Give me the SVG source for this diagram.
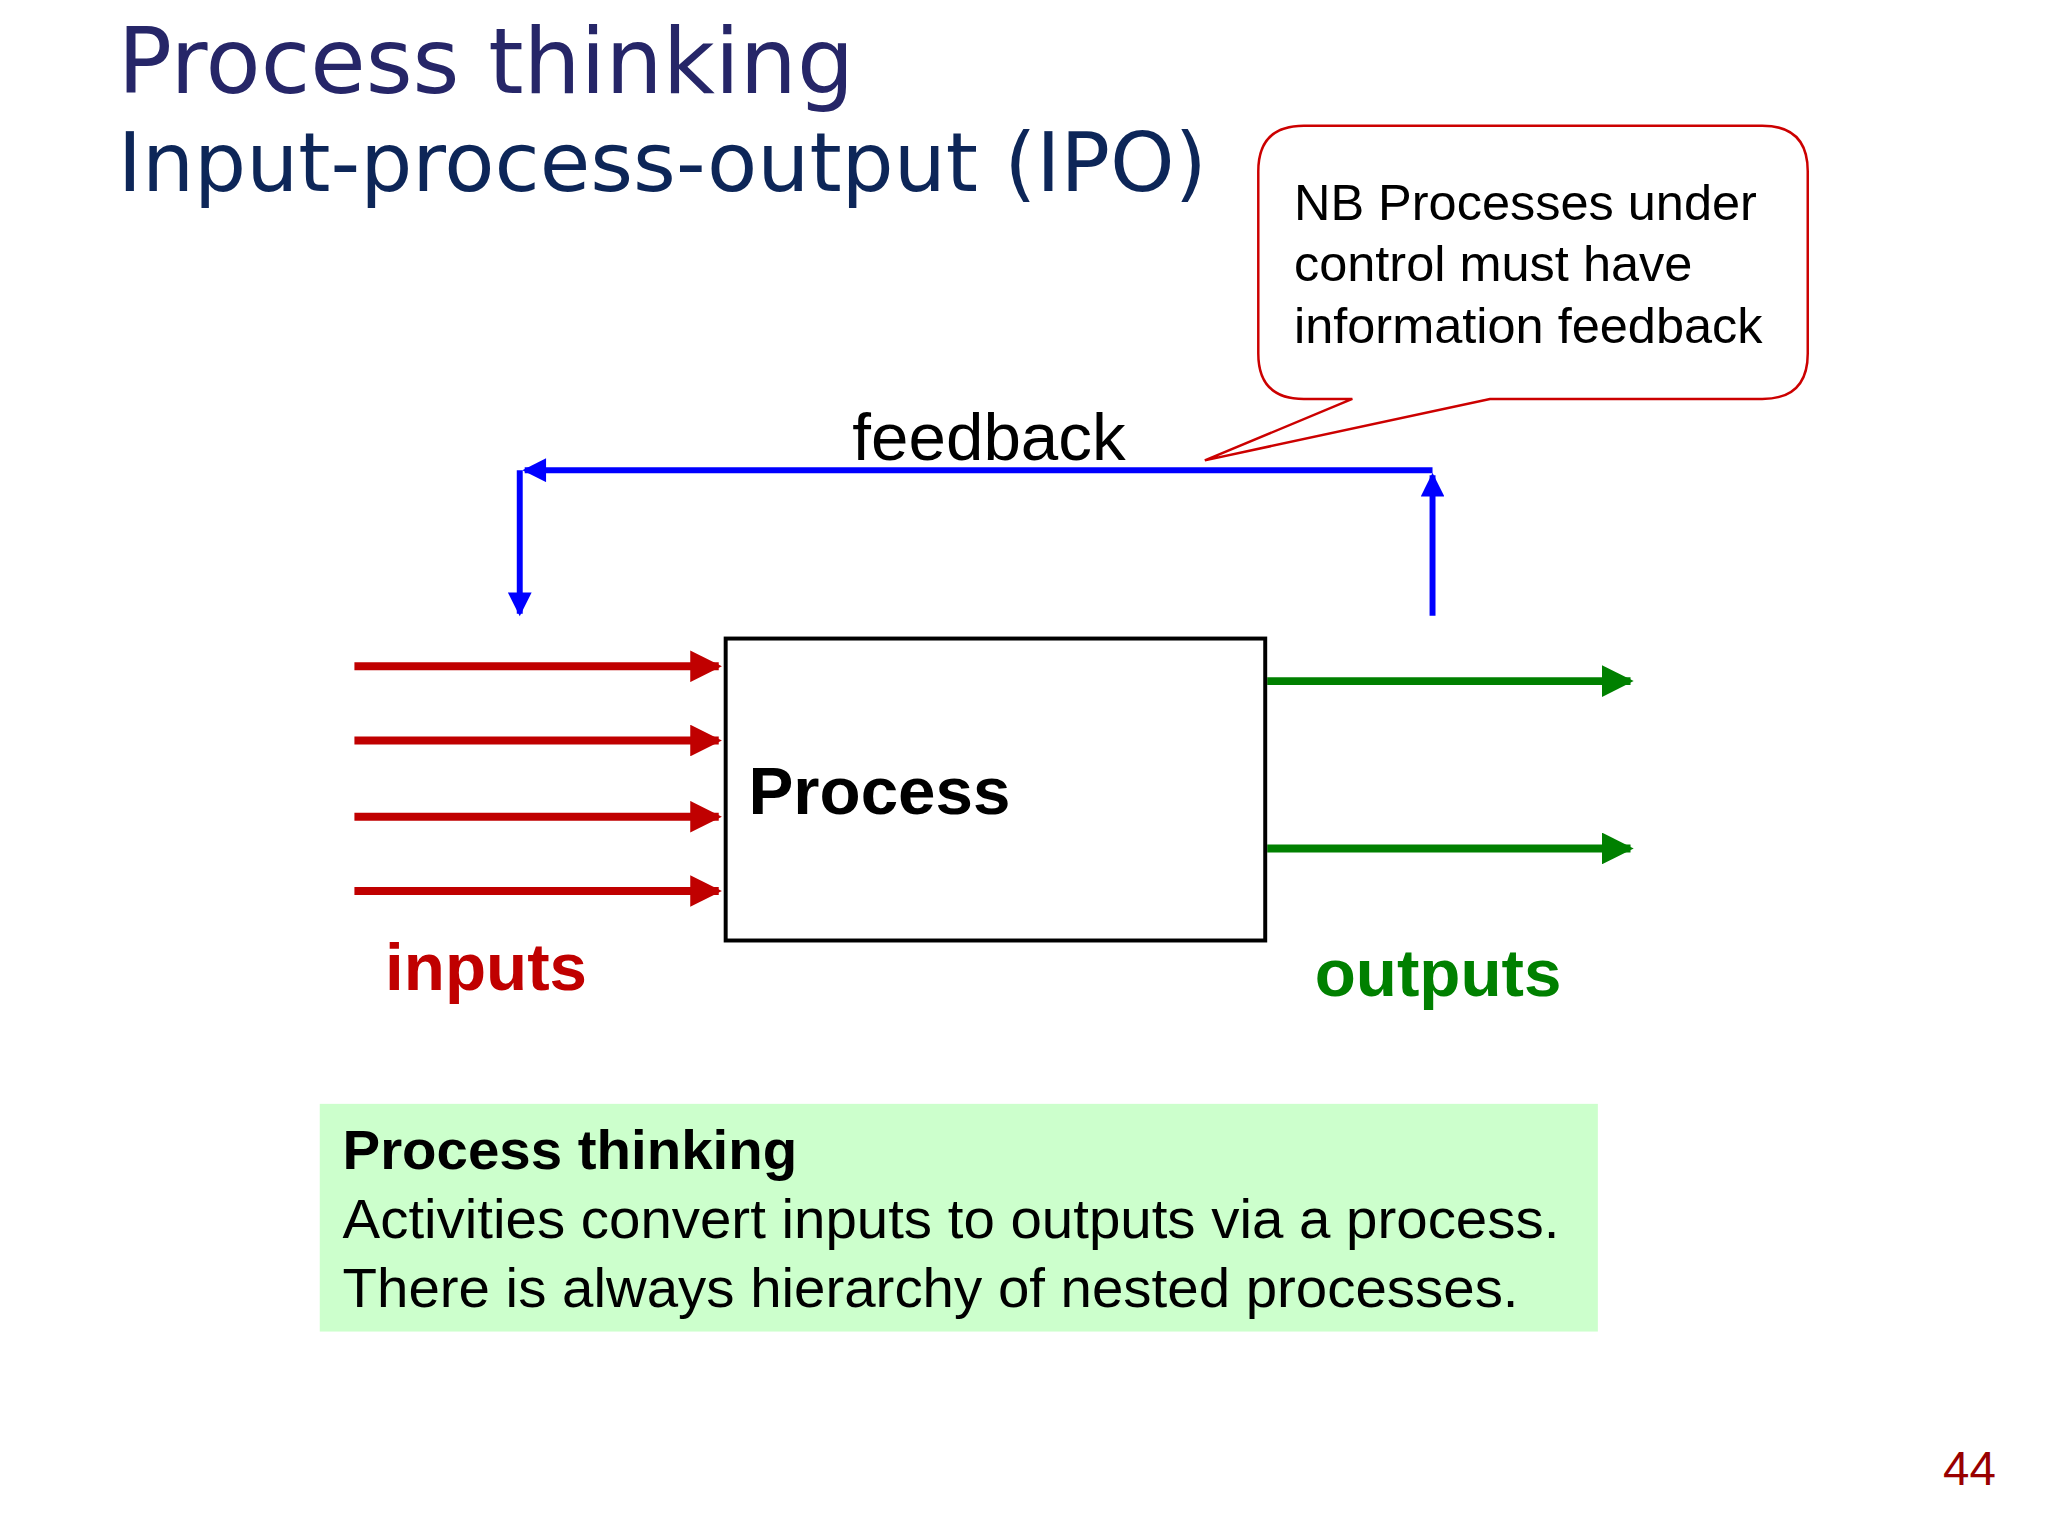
<svg xmlns="http://www.w3.org/2000/svg" width="2048" height="1536" viewBox="0 0 2048 1536">
<style>
text{font-family:"Liberation Sans",Arial,sans-serif}
.t{font-family:"DejaVu Sans","Liberation Sans",sans-serif}
.red{stroke:#c00000;stroke-width:8;fill:none}
.grn{stroke:#008000;stroke-width:8;fill:none}
.blu{stroke:#0000ff;stroke-width:6;fill:none}
</style>
<defs>
<marker id="ar" viewBox="0 0 10 10" refX="9" refY="5" markerWidth="4.5" markerHeight="4" orient="auto" markerUnits="strokeWidth"><path d="M0,0L10,5L0,10z" fill="#c00000"/></marker>
<marker id="ag" viewBox="0 0 10 10" refX="9" refY="5" markerWidth="4.5" markerHeight="4" orient="auto" markerUnits="strokeWidth"><path d="M0,0L10,5L0,10z" fill="#008000"/></marker>
<marker id="ab" viewBox="0 0 10 10" refX="9" refY="5" markerWidth="4.5" markerHeight="4" orient="auto" markerUnits="strokeWidth"><path d="M0,0L10,5L0,10z" fill="#0000ff"/></marker>
</defs>
<rect width="2048" height="1536" fill="#fff"/>
<g transform="scale(0.99)">
<text class="t" x="119" y="94" font-size="91" fill="#262668">Process thinking</text>
<text class="t" x="119" y="193" font-size="83" fill="#0d2658">Input-process-output (IPO)</text>
<g id="callout">
<path d="M1317,127H1780Q1826,127 1826,173V357Q1826,403 1780,403H1505L1217,465L1366,403H1317Q1271,403 1271,357V173Q1271,127 1317,127Z" fill="#fff" stroke="#cc0000" stroke-width="2.5"/>
<text x="1307" y="222" font-size="51">NB Processes under</text>
<text x="1307" y="284" font-size="51">control must have</text>
<text x="1307" y="346" font-size="51">information feedback</text>
</g>
<g id="connectors">
<polyline class="blu" points="1447,475 530,475" marker-end="url(#ab)"/>
<line class="blu" x1="525" y1="475" x2="525" y2="620" marker-end="url(#ab)"/>
<line class="blu" x1="1447" y1="622" x2="1447" y2="480" marker-end="url(#ab)"/>
<line class="red" x1="358" y1="673" x2="726" y2="673" marker-end="url(#ar)"/>
<line class="red" x1="358" y1="748" x2="726" y2="748" marker-end="url(#ar)"/>
<line class="red" x1="358" y1="825" x2="726" y2="825" marker-end="url(#ar)"/>
<line class="red" x1="358" y1="900" x2="726" y2="900" marker-end="url(#ar)"/>
<line class="grn" x1="1280" y1="688" x2="1647" y2="688" marker-end="url(#ag)"/>
<line class="grn" x1="1280" y1="857" x2="1647" y2="857" marker-end="url(#ag)"/>
</g>
<text x="861" y="465" font-size="68">feedback</text>
<g id="process">
<rect x="733" y="645" width="545" height="305" fill="#fff" stroke="#000" stroke-width="4"/>
<text x="756" y="822" font-size="68" font-weight="bold">Process</text>
</g>
<text x="389" y="1000" font-size="68" font-weight="bold" fill="#c00000">inputs</text>
<text x="1328" y="1006" font-size="68" font-weight="bold" fill="#008000">outputs</text>
<g id="note">
<rect x="323" y="1115" width="1291" height="230" fill="#ccffcc"/>
<text x="346" y="1181" font-size="57" font-weight="bold">Process thinking</text>
<text x="346" y="1251" font-size="57">Activities convert inputs to outputs via a process.</text>
<text x="346" y="1320" font-size="57">There is always hierarchy of nested processes.</text>
</g>
<text x="2016" y="1500" font-size="48" fill="#990000" text-anchor="end">44</text>
</g>
</svg>
